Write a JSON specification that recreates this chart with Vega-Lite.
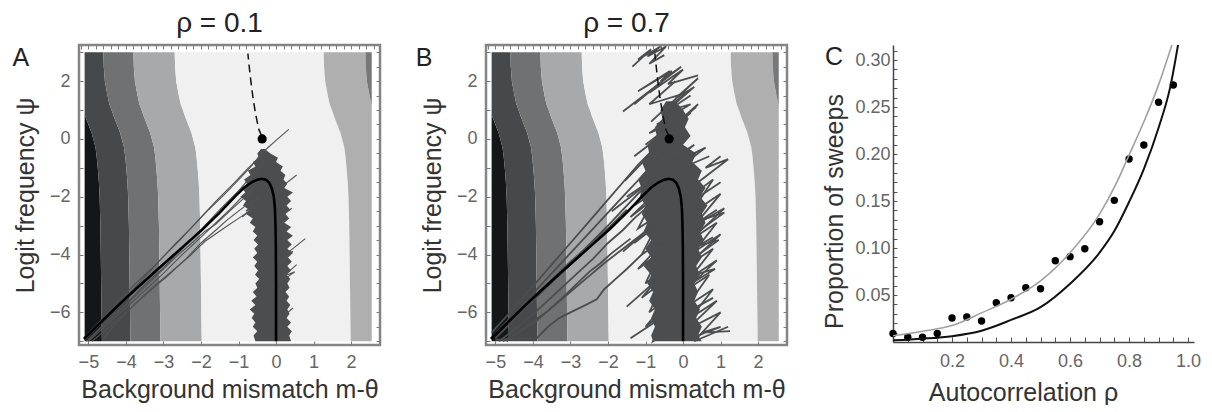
{
  "$schema": "https://vega.github.io/schema/vega-lite/v6.json",
  "background": "white",
  "padding": {"left": 11, "top": 8, "right": 0, "bottom": 0},
  "spacing": 106,
  "bounds": "flush",
  "config": {
    "font": "Liberation Sans",
    "view": {"stroke": "#858585", "strokeWidth": 2.5},
    "axis": {"labelFont": "Liberation Sans", "titleFont": "Liberation Sans", "titleFontWeight": "normal", "grid": false},
    "title": {"font": "Liberation Sans", "fontWeight": "normal"}
  },
  "datasets": {
    "bands": [
      {"y": 3, "L": -5.1, "b0": -5.1, "b1": -4.6, "b2": -3.8, "b3": -2.7, "b4": 1.27, "b5": 2.38, "R": 2.55},
      {"y": 2.5, "L": -5.1, "b0": -5.1, "b1": -4.59, "b2": -3.79, "b3": -2.69, "b4": 1.28, "b5": 2.39, "R": 2.55},
      {"y": 2, "L": -5.1, "b0": -5.1, "b1": -4.56, "b2": -3.76, "b3": -2.66, "b4": 1.31, "b5": 2.42, "R": 2.55},
      {"y": 1.5, "L": -5.1, "b0": -5.1, "b1": -4.49, "b2": -3.69, "b3": -2.59, "b4": 1.38, "b5": 2.49, "R": 2.55},
      {"y": 1.2, "L": -5.1, "b0": -5.1, "b1": -4.44, "b2": -3.64, "b3": -2.54, "b4": 1.43, "b5": 2.54, "R": 2.55},
      {"y": 1, "L": -5.1, "b0": -5.1, "b1": -4.38, "b2": -3.58, "b3": -2.48, "b4": 1.49, "b5": 2.55, "R": 2.55},
      {"y": 0.8, "L": -5.1, "b0": -5.09, "b1": -4.33, "b2": -3.53, "b3": -2.43, "b4": 1.54, "b5": 2.55, "R": 2.55},
      {"y": 0.5, "L": -5.1, "b0": -5.0, "b1": -4.24, "b2": -3.44, "b3": -2.34, "b4": 1.63, "b5": 2.55, "R": 2.55},
      {"y": 0.2, "L": -5.1, "b0": -4.91, "b1": -4.15, "b2": -3.35, "b3": -2.25, "b4": 1.72, "b5": 2.55, "R": 2.55},
      {"y": 0, "L": -5.1, "b0": -4.87, "b1": -4.11, "b2": -3.31, "b3": -2.21, "b4": 1.76, "b5": 2.55, "R": 2.55},
      {"y": -0.3, "L": -5.1, "b0": -4.81, "b1": -4.05, "b2": -3.25, "b3": -2.15, "b4": 1.82, "b5": 2.55, "R": 2.55},
      {"y": -0.6, "L": -5.1, "b0": -4.78, "b1": -4.02, "b2": -3.22, "b3": -2.12, "b4": 1.85, "b5": 2.55, "R": 2.55},
      {"y": -1, "L": -5.1, "b0": -4.75, "b1": -3.99, "b2": -3.19, "b3": -2.09, "b4": 1.88, "b5": 2.55, "R": 2.55},
      {"y": -1.5, "L": -5.1, "b0": -4.72, "b1": -3.96, "b2": -3.16, "b3": -2.06, "b4": 1.91, "b5": 2.55, "R": 2.55},
      {"y": -2, "L": -5.1, "b0": -4.7, "b1": -3.94, "b2": -3.14, "b3": -2.04, "b4": 1.93, "b5": 2.55, "R": 2.55},
      {"y": -3, "L": -5.1, "b0": -4.68, "b1": -3.92, "b2": -3.12, "b3": -2.02, "b4": 1.95, "b5": 2.55, "R": 2.55},
      {"y": -4, "L": -5.1, "b0": -4.67, "b1": -3.91, "b2": -3.11, "b3": -2.01, "b4": 1.96, "b5": 2.55, "R": 2.55},
      {"y": -5, "L": -5.1, "b0": -4.66, "b1": -3.9, "b2": -3.1, "b3": -2.0, "b4": 1.97, "b5": 2.55, "R": 2.55},
      {"y": -6, "L": -5.1, "b0": -4.65, "b1": -3.89, "b2": -3.09, "b3": -1.99, "b4": 1.98, "b5": 2.55, "R": 2.55},
      {"y": -7, "L": -5.1, "b0": -4.64, "b1": -3.88, "b2": -3.08, "b3": -1.98, "b4": 1.99, "b5": 2.55, "R": 2.55}
    ],
    "curve": [
      {"x": -5.12, "y": -6.92}, {"x": -4.64, "y": -6.31}, {"x": -4.2, "y": -5.75}, {"x": -3.75, "y": -5.21},
      {"x": -3.3, "y": -4.68}, {"x": -2.86, "y": -4.17}, {"x": -2.4, "y": -3.64}, {"x": -1.97, "y": -3.14},
      {"x": -1.5, "y": -2.55}, {"x": -1.09, "y": -1.99}, {"x": -0.85, "y": -1.68}, {"x": -0.65, "y": -1.5},
      {"x": -0.5, "y": -1.41}, {"x": -0.38, "y": -1.38}, {"x": -0.27, "y": -1.41}, {"x": -0.18, "y": -1.52},
      {"x": -0.11, "y": -1.72}, {"x": -0.06, "y": -2.0}, {"x": -0.03, "y": -2.4}, {"x": -0.015, "y": -3.0},
      {"x": -0.005, "y": -3.8}, {"x": 0, "y": -5.0}, {"x": 0, "y": -7.0}
    ],
    "dash": [
      {"x": -0.38, "y": 0.1}, {"x": -0.46, "y": 0.33}, {"x": -0.55, "y": 0.9}, {"x": -0.62, "y": 1.48},
      {"x": -0.69, "y": 2.2}, {"x": -0.75, "y": 2.95}
    ],
    "dot": [{"x": -0.37, "y": 0}],
    "letters": [{"t": "A", "x": -6.8, "y": 2.8}, {"t": "B", "x": -6.9, "y": 2.8}, {"t": "C", "x": -0.2, "y": 0.303}],
    "trajA": [
      {"id": 1, "x": -5.05, "y": -7.0}, {"id": 1, "x": -4.5, "y": -6.3}, {"id": 1, "x": -4.0, "y": -5.72}, {"id": 1, "x": -3.5, "y": -5.05}, {"id": 1, "x": -3.0, "y": -4.45}, {"id": 1, "x": -2.5, "y": -3.8}, {"id": 1, "x": -2.0, "y": -3.15}, {"id": 1, "x": -1.5, "y": -2.45}, {"id": 1, "x": -1.0, "y": -1.8}, {"id": 1, "x": -0.7, "y": -1.35}, {"id": 1, "x": -0.5, "y": -1.1}, {"id": 1, "x": -0.3, "y": -0.75},
      {"id": 2, "x": -5.1, "y": -6.95}, {"id": 2, "x": -4.6, "y": -6.3}, {"id": 2, "x": -4.1, "y": -5.6}, {"id": 2, "x": -3.6, "y": -4.92}, {"id": 2, "x": -3.1, "y": -4.2}, {"id": 2, "x": -2.6, "y": -3.55}, {"id": 2, "x": -2.1, "y": -2.85}, {"id": 2, "x": -1.6, "y": -2.15}, {"id": 2, "x": -1.1, "y": -1.5}, {"id": 2, "x": -0.75, "y": -1.02}, {"id": 2, "x": -0.55, "y": -0.78}, {"id": 2, "x": -0.4, "y": -0.5},
      {"id": 3, "x": -5.0, "y": -7.0}, {"id": 3, "x": -4.5, "y": -6.42}, {"id": 3, "x": -4.0, "y": -5.85}, {"id": 3, "x": -3.5, "y": -5.25}, {"id": 3, "x": -3.0, "y": -4.65}, {"id": 3, "x": -2.5, "y": -4.0}, {"id": 3, "x": -2.0, "y": -3.4}, {"id": 3, "x": -1.6, "y": -2.9}, {"id": 3, "x": -1.2, "y": -2.4}, {"id": 3, "x": -0.9, "y": -2.0}, {"id": 3, "x": -0.7, "y": -1.8}, {"id": 3, "x": -0.5, "y": -1.6},
      {"id": 4, "x": -4.9, "y": -7.0}, {"id": 4, "x": -4.4, "y": -6.45}, {"id": 4, "x": -3.9, "y": -5.9}, {"id": 4, "x": -3.4, "y": -5.3}, {"id": 4, "x": -2.9, "y": -4.75}, {"id": 4, "x": -2.4, "y": -4.15}, {"id": 4, "x": -2.0, "y": -3.6}, {"id": 4, "x": -1.6, "y": -3.15}, {"id": 4, "x": -1.3, "y": -2.8}, {"id": 4, "x": -1.0, "y": -2.5}, {"id": 4, "x": -0.8, "y": -2.3}, {"id": 4, "x": -0.6, "y": -2.1},
      {"id": 5, "x": -5.1, "y": -6.85}, {"id": 5, "x": -4.6, "y": -6.18}, {"id": 5, "x": -4.2, "y": -5.6}, {"id": 5, "x": -3.7, "y": -4.95}, {"id": 5, "x": -3.2, "y": -4.35}, {"id": 5, "x": -2.7, "y": -3.65}, {"id": 5, "x": -2.2, "y": -3.0}, {"id": 5, "x": -1.8, "y": -2.45}, {"id": 5, "x": -1.4, "y": -1.95}, {"id": 5, "x": -1.0, "y": -1.42}, {"id": 5, "x": -0.7, "y": -1.0}, {"id": 5, "x": -0.45, "y": -0.62}, {"id": 5, "x": -0.3, "y": -0.4}, {"id": 5, "x": 0.0, "y": -0.05}, {"id": 5, "x": 0.34, "y": 0.33},
      {"id": 6, "x": -5.0, "y": -6.95}, {"id": 6, "x": -4.5, "y": -6.35}, {"id": 6, "x": -4.0, "y": -5.75}, {"id": 6, "x": -3.5, "y": -5.12}, {"id": 6, "x": -3.0, "y": -4.5}, {"id": 6, "x": -2.6, "y": -4.0}, {"id": 6, "x": -2.2, "y": -3.55}, {"id": 6, "x": -1.9, "y": -3.2}, {"id": 6, "x": -1.6, "y": -2.95}, {"id": 6, "x": -1.2, "y": -2.45}, {"id": 6, "x": -0.9, "y": -2.1}, {"id": 6, "x": -0.6, "y": -1.75},
      {"id": 7, "x": -4.6, "y": -6.9}, {"id": 7, "x": -4.2, "y": -6.3}, {"id": 7, "x": -3.75, "y": -5.7}, {"id": 7, "x": -3.3, "y": -5.15}, {"id": 7, "x": -2.8, "y": -4.6}, {"id": 7, "x": -2.3, "y": -4.05}, {"id": 7, "x": -1.9, "y": -3.55}, {"id": 7, "x": -1.4, "y": -3.1}, {"id": 7, "x": -1.0, "y": -2.75}, {"id": 7, "x": -0.6, "y": -2.4},
      {"id": 9, "x": 0.1, "y": -4.3}, {"id": 9, "x": 0.45, "y": -3.9}, {"id": 9, "x": 0.3, "y": -3.95}, {"id": 9, "x": 0.78, "y": -3.45},
      {"id": 10, "x": 0.1, "y": -1.7}, {"id": 10, "x": 0.55, "y": -1.25},
      {"id": 11, "x": 0.05, "y": -6.3}, {"id": 11, "x": 0.45, "y": -5.85},
      {"id": 12, "x": 0.0, "y": -2.8}, {"id": 12, "x": 0.42, "y": -2.4},
      {"id": 13, "x": -0.9, "y": -2.7}, {"id": 13, "x": -0.55, "y": -2.3}, {"id": 13, "x": -0.8, "y": -2.5}, {"id": 13, "x": -0.45, "y": -2.0},
      {"id": 14, "x": 0.05, "y": -5.0}, {"id": 14, "x": 0.5, "y": -4.6}, {"id": 14, "x": 0.2, "y": -4.75}, {"id": 14, "x": 0.55, "y": -4.35}
    ],
    "cloudA": [
      {"y": -0.35, "x1": -0.4, "x2": -0.3}, {"y": -0.5, "x1": -0.5, "x2": -0.15}, {"y": -0.65, "x1": -0.45, "x2": 0.05},
      {"y": -0.8, "x1": -0.62, "x2": 0.0}, {"y": -0.95, "x1": -0.55, "x2": 0.18}, {"y": -1.1, "x1": -0.75, "x2": 0.12},
      {"y": -1.25, "x1": -0.68, "x2": 0.25}, {"y": -1.4, "x1": -0.85, "x2": 0.2}, {"y": -1.55, "x1": -0.78, "x2": 0.3},
      {"y": -1.7, "x1": -0.9, "x2": 0.22}, {"y": -1.85, "x1": -0.82, "x2": 0.45}, {"y": -2.0, "x1": -0.95, "x2": 0.3},
      {"y": -2.15, "x1": -0.8, "x2": 0.4}, {"y": -2.3, "x1": -0.88, "x2": 0.28}, {"y": -2.45, "x1": -0.72, "x2": 0.38},
      {"y": -2.6, "x1": -0.8, "x2": 0.25}, {"y": -2.75, "x1": -0.62, "x2": 0.35}, {"y": -2.9, "x1": -0.7, "x2": 0.22},
      {"y": -3.05, "x1": -0.55, "x2": 0.4}, {"y": -3.2, "x1": -0.62, "x2": 0.28}, {"y": -3.35, "x1": -0.5, "x2": 0.45},
      {"y": -3.5, "x1": -0.6, "x2": 0.3}, {"y": -3.65, "x1": -0.48, "x2": 0.42}, {"y": -3.8, "x1": -0.58, "x2": 0.3},
      {"y": -3.95, "x1": -0.5, "x2": 0.45}, {"y": -4.1, "x1": -0.62, "x2": 0.32}, {"y": -4.25, "x1": -0.5, "x2": 0.42},
      {"y": -4.4, "x1": -0.58, "x2": 0.3}, {"y": -4.55, "x1": -0.48, "x2": 0.4}, {"y": -4.7, "x1": -0.56, "x2": 0.28},
      {"y": -4.85, "x1": -0.45, "x2": 0.38}, {"y": -5.0, "x1": -0.55, "x2": 0.3}, {"y": -5.15, "x1": -0.5, "x2": 0.36},
      {"y": -5.3, "x1": -0.62, "x2": 0.25}, {"y": -5.45, "x1": -0.52, "x2": 0.35}, {"y": -5.6, "x1": -0.66, "x2": 0.28},
      {"y": -5.75, "x1": -0.55, "x2": 0.38}, {"y": -5.9, "x1": -0.7, "x2": 0.3}, {"y": -6.05, "x1": -0.58, "x2": 0.36},
      {"y": -6.2, "x1": -0.65, "x2": 0.28}, {"y": -6.35, "x1": -0.55, "x2": 0.4}, {"y": -6.5, "x1": -0.62, "x2": 0.3},
      {"y": -6.65, "x1": -0.5, "x2": 0.42}, {"y": -6.8, "x1": -0.6, "x2": 0.35}, {"y": -7.0, "x1": -0.55, "x2": 0.4}
    ],
    "trajB": [
      {"id": 1, "x": -5.1, "y": -6.7}, {"id": 1, "x": -4.5, "y": -5.85}, {"id": 1, "x": -4.0, "y": -5.1}, {"id": 1, "x": -3.5, "y": -4.35}, {"id": 1, "x": -3.0, "y": -3.6}, {"id": 1, "x": -2.5, "y": -2.85}, {"id": 1, "x": -2.0, "y": -2.1}, {"id": 1, "x": -1.6, "y": -1.5}, {"id": 1, "x": -1.2, "y": -0.9}, {"id": 1, "x": -0.9, "y": -0.5}, {"id": 1, "x": -0.6, "y": -0.1},
      {"id": 2, "x": -5.05, "y": -6.8}, {"id": 2, "x": -4.5, "y": -6.05}, {"id": 2, "x": -4.0, "y": -5.35}, {"id": 2, "x": -3.5, "y": -4.65}, {"id": 2, "x": -3.0, "y": -3.95}, {"id": 2, "x": -2.5, "y": -3.25}, {"id": 2, "x": -2.0, "y": -2.55}, {"id": 2, "x": -1.5, "y": -1.85}, {"id": 2, "x": -1.1, "y": -1.3}, {"id": 2, "x": -0.8, "y": -0.9}, {"id": 2, "x": -0.5, "y": -0.5},
      {"id": 3, "x": -5.0, "y": -6.9}, {"id": 3, "x": -4.5, "y": -6.25}, {"id": 3, "x": -4.0, "y": -5.6}, {"id": 3, "x": -3.5, "y": -4.95}, {"id": 3, "x": -3.0, "y": -4.3}, {"id": 3, "x": -2.5, "y": -3.65}, {"id": 3, "x": -2.0, "y": -3.0}, {"id": 3, "x": -1.6, "y": -2.45}, {"id": 3, "x": -1.2, "y": -1.9}, {"id": 3, "x": -0.8, "y": -1.4},
      {"id": 4, "x": -4.9, "y": -7.0}, {"id": 4, "x": -4.4, "y": -6.5}, {"id": 4, "x": -3.9, "y": -5.95}, {"id": 4, "x": -3.4, "y": -5.35}, {"id": 4, "x": -2.9, "y": -4.75}, {"id": 4, "x": -2.4, "y": -4.15}, {"id": 4, "x": -2.0, "y": -3.6}, {"id": 4, "x": -1.6, "y": -3.15}, {"id": 4, "x": -1.3, "y": -2.75}, {"id": 4, "x": -0.9, "y": -2.3},
      {"id": 5, "x": -4.7, "y": -7.0}, {"id": 5, "x": -4.2, "y": -6.5}, {"id": 5, "x": -3.6, "y": -5.95}, {"id": 5, "x": -3.1, "y": -5.4}, {"id": 5, "x": -2.6, "y": -4.85}, {"id": 5, "x": -2.1, "y": -4.3}, {"id": 5, "x": -1.6, "y": -3.8}, {"id": 5, "x": -1.0, "y": -3.2},
      {"id": 6, "x": -5.0, "y": -6.95}, {"id": 6, "x": -4.4, "y": -6.92}, {"id": 6, "x": -3.9, "y": -6.9}, {"id": 6, "x": -3.6, "y": -6.5}, {"id": 6, "x": -3.3, "y": -6.2}, {"id": 6, "x": -3.0, "y": -6.0}, {"id": 6, "x": -2.6, "y": -5.75}, {"id": 6, "x": -2.3, "y": -5.55}, {"id": 6, "x": -2.1, "y": -5.2}, {"id": 6, "x": -1.8, "y": -4.85}, {"id": 6, "x": -1.5, "y": -4.5}, {"id": 6, "x": -1.1, "y": -4.0},
      {"id": 7, "x": -5.1, "y": -6.9}, {"id": 7, "x": -4.6, "y": -6.25}, {"id": 7, "x": -4.2, "y": -5.8}, {"id": 7, "x": -3.8, "y": -5.25}, {"id": 7, "x": -3.4, "y": -4.75}, {"id": 7, "x": -3.0, "y": -4.25}, {"id": 7, "x": -2.6, "y": -3.8}, {"id": 7, "x": -2.3, "y": -3.45}, {"id": 7, "x": -2.0, "y": -3.1}, {"id": 7, "x": -1.5, "y": -2.45},
      {"id": 8, "x": -4.8, "y": -7.0}, {"id": 8, "x": -4.4, "y": -6.7}, {"id": 8, "x": -4.0, "y": -6.4}, {"id": 8, "x": -3.6, "y": -5.95}, {"id": 8, "x": -3.3, "y": -5.6}, {"id": 8, "x": -2.9, "y": -5.1}, {"id": 8, "x": -2.5, "y": -4.6}, {"id": 8, "x": -2.2, "y": -4.3}, {"id": 8, "x": -1.9, "y": -3.95}, {"id": 8, "x": -1.4, "y": -3.45},
      {"id": 11, "x": -1.35, "y": 2.5}, {"id": 11, "x": -0.85, "y": 3.1}, {"id": 11, "x": -1.2, "y": 2.75}, {"id": 11, "x": -0.6, "y": 3.2}, {"id": 11, "x": -0.95, "y": 2.85}, {"id": 11, "x": -0.45, "y": 3.2}, {"id": 11, "x": -0.9, "y": 2.6}, {"id": 11, "x": -0.5, "y": 2.9},
      {"id": 12, "x": -1.6, "y": 0.95}, {"id": 12, "x": -0.05, "y": 2.5}, {"id": 12, "x": -0.6, "y": 2.0}, {"id": 12, "x": -0.3, "y": 2.35}, {"id": 12, "x": -1.2, "y": 1.65}, {"id": 12, "x": -0.35, "y": 2.35},
      {"id": 13, "x": -1.3, "y": 1.2}, {"id": 13, "x": -0.55, "y": 2.0}, {"id": 13, "x": -0.9, "y": 1.6}, {"id": 13, "x": 0.0, "y": 2.4}, {"id": 13, "x": -0.4, "y": 1.9}, {"id": 13, "x": 0.4, "y": 2.2},
      {"id": 14, "x": -0.85, "y": 0.6}, {"id": 14, "x": 0.4, "y": 2.1}, {"id": 14, "x": -0.2, "y": 1.4}, {"id": 14, "x": 0.3, "y": 1.8}, {"id": 14, "x": -0.5, "y": 0.9}, {"id": 14, "x": 0.2, "y": 1.5},
      {"id": 15, "x": -1.55, "y": -1.45}, {"id": 15, "x": 0.4, "y": 1.2}, {"id": 15, "x": -0.3, "y": 0.4}, {"id": 15, "x": 0.35, "y": 1.1},
      {"id": 16, "x": -1.3, "y": -0.6}, {"id": 16, "x": 0.2, "y": 0.9}, {"id": 16, "x": -0.6, "y": 0.2}, {"id": 16, "x": 0.0, "y": 0.7},
      {"id": 17, "x": -1.0, "y": -0.2}, {"id": 17, "x": -0.2, "y": 0.6}, {"id": 17, "x": -0.9, "y": 0.2}, {"id": 17, "x": 0.0, "y": 1.0}, {"id": 17, "x": -0.7, "y": 0.5}, {"id": 17, "x": 0.2, "y": 1.2}, {"id": 17, "x": -0.6, "y": 0.9}, {"id": 17, "x": 0.1, "y": 1.6}, {"id": 17, "x": -0.9, "y": 1.2}, {"id": 17, "x": -0.2, "y": 2.0},
      {"id": 18, "x": -1.5, "y": -2.0}, {"id": 18, "x": -0.7, "y": -1.3}, {"id": 18, "x": -1.3, "y": -2.3}, {"id": 18, "x": -0.6, "y": -1.7}, {"id": 18, "x": -1.4, "y": -2.7}, {"id": 18, "x": -0.8, "y": -2.1}, {"id": 18, "x": -1.2, "y": -3.1}, {"id": 18, "x": -0.5, "y": -2.5}, {"id": 18, "x": -1.3, "y": -3.6}, {"id": 18, "x": -0.7, "y": -3.0}, {"id": 18, "x": -1.1, "y": -4.0}, {"id": 18, "x": -0.4, "y": -3.4}, {"id": 18, "x": -1.2, "y": -4.5}, {"id": 18, "x": -0.6, "y": -3.9}, {"id": 18, "x": -1.0, "y": -5.0}, {"id": 18, "x": -0.4, "y": -4.4}, {"id": 18, "x": -1.1, "y": -5.5}, {"id": 18, "x": -0.5, "y": -4.9}, {"id": 18, "x": -0.9, "y": -6.0}, {"id": 18, "x": -0.3, "y": -5.4}, {"id": 18, "x": -1.0, "y": -6.5}, {"id": 18, "x": -0.4, "y": -5.9}, {"id": 18, "x": -0.8, "y": -7.0}, {"id": 18, "x": -0.2, "y": -6.5},
      {"id": 19, "x": 0.0, "y": -2.2}, {"id": 19, "x": 0.8, "y": -1.4}, {"id": 19, "x": 0.2, "y": -2.6}, {"id": 19, "x": 1.0, "y": -1.9}, {"id": 19, "x": 0.3, "y": -3.0}, {"id": 19, "x": 1.1, "y": -2.4}, {"id": 19, "x": 0.2, "y": -3.5}, {"id": 19, "x": 0.9, "y": -2.9}, {"id": 19, "x": 0.3, "y": -3.9}, {"id": 19, "x": 1.0, "y": -3.3}, {"id": 19, "x": 0.1, "y": -4.4}, {"id": 19, "x": 0.8, "y": -3.8}, {"id": 19, "x": 0.2, "y": -4.8}, {"id": 19, "x": 0.9, "y": -4.2}, {"id": 19, "x": 0.0, "y": -5.3}, {"id": 19, "x": 0.7, "y": -4.7}, {"id": 19, "x": 0.1, "y": -5.8}, {"id": 19, "x": 0.8, "y": -5.2}, {"id": 19, "x": 0.2, "y": -6.2}, {"id": 19, "x": 0.9, "y": -5.6}, {"id": 19, "x": 0.1, "y": -6.6}, {"id": 19, "x": 1.0, "y": -6.0}, {"id": 19, "x": 0.3, "y": -7.0}, {"id": 19, "x": 1.2, "y": -6.5},
      {"id": 20, "x": -0.9, "y": -1.2}, {"id": 20, "x": 0.3, "y": -0.2}, {"id": 20, "x": -0.5, "y": -1.0}, {"id": 20, "x": 0.6, "y": -0.3}, {"id": 20, "x": -0.2, "y": -1.1}, {"id": 20, "x": 0.7, "y": -0.6},
      {"id": 21, "x": 0.3, "y": -3.3}, {"id": 21, "x": 1.1, "y": -2.55}, {"id": 21, "x": 0.5, "y": -2.8}, {"id": 21, "x": 0.9, "y": -2.45},
      {"id": 22, "x": 0.2, "y": -4.2}, {"id": 22, "x": 0.95, "y": -3.5}, {"id": 22, "x": 0.4, "y": -3.7}, {"id": 22, "x": 0.8, "y": -3.4},
      {"id": 23, "x": 0.1, "y": -5.1}, {"id": 23, "x": 0.85, "y": -4.5}, {"id": 23, "x": 0.3, "y": -4.7},
      {"id": 24, "x": 0.2, "y": -6.9}, {"id": 24, "x": 1.0, "y": -6.5}, {"id": 24, "x": 0.5, "y": -6.7}, {"id": 24, "x": 1.25, "y": -6.65},
      {"id": 25, "x": 0.1, "y": -6.0}, {"id": 25, "x": 0.8, "y": -5.5},
      {"id": 26, "x": 0.3, "y": -1.6}, {"id": 26, "x": 1.2, "y": -0.7}, {"id": 26, "x": 0.6, "y": -1.0}, {"id": 26, "x": 1.0, "y": -0.6},
      {"id": 27, "x": 0.2, "y": -2.2}, {"id": 27, "x": 1.0, "y": -1.5},
      {"id": 31, "x": -1.6, "y": -3.9}, {"id": 31, "x": -0.9, "y": -3.1},
      {"id": 32, "x": -1.5, "y": -5.8}, {"id": 32, "x": -0.8, "y": -5.0},
      {"id": 33, "x": -1.9, "y": -2.5}, {"id": 33, "x": -1.0, "y": -1.6},
      {"id": 34, "x": -1.4, "y": -6.9}, {"id": 34, "x": -0.7, "y": -6.3}
    ],
    "cloudB": [
      {"y": 1.3, "x1": -0.45, "x2": -0.2}, {"y": 1.0, "x1": -0.6, "x2": 0.0},
      {"y": 0.7, "x1": -0.55, "x2": 0.15}, {"y": 0.4, "x1": -0.75, "x2": 0.05}, {"y": 0.1, "x1": -0.7, "x2": 0.2},
      {"y": -0.2, "x1": -0.95, "x2": 0.0}, {"y": -0.5, "x1": -0.9, "x2": 0.35}, {"y": -0.8, "x1": -1.1, "x2": 0.25},
      {"y": -1.1, "x1": -1.0, "x2": 0.5}, {"y": -1.4, "x1": -1.2, "x2": 0.4}, {"y": -1.7, "x1": -1.1, "x2": 0.6},
      {"y": -2.0, "x1": -1.15, "x2": 0.45}, {"y": -2.3, "x1": -1.0, "x2": 0.65}, {"y": -2.6, "x1": -1.1, "x2": 0.5},
      {"y": -2.9, "x1": -0.95, "x2": 0.6}, {"y": -3.2, "x1": -1.05, "x2": 0.45}, {"y": -3.5, "x1": -0.85, "x2": 0.55},
      {"y": -3.8, "x1": -1.0, "x2": 0.4}, {"y": -4.1, "x1": -0.85, "x2": 0.5}, {"y": -4.4, "x1": -1.05, "x2": 0.35},
      {"y": -4.7, "x1": -0.85, "x2": 0.45}, {"y": -5.0, "x1": -0.95, "x2": 0.3}, {"y": -5.3, "x1": -0.8, "x2": 0.4},
      {"y": -5.6, "x1": -0.9, "x2": 0.3}, {"y": -5.9, "x1": -0.75, "x2": 0.45}, {"y": -6.2, "x1": -0.85, "x2": 0.35},
      {"y": -6.5, "x1": -0.75, "x2": 0.5}, {"y": -6.8, "x1": -0.85, "x2": 0.4}, {"y": -7.0, "x1": -0.8, "x2": 0.5}
    ],
    "fitGray": [
      {"x": 0, "y": 0.0067}, {"x": 0.1, "y": 0.0115}, {"x": 0.2, "y": 0.0175}, {"x": 0.3, "y": 0.031},
      {"x": 0.4, "y": 0.0455}, {"x": 0.5, "y": 0.065}, {"x": 0.6, "y": 0.095}, {"x": 0.7, "y": 0.136},
      {"x": 0.757, "y": 0.169}, {"x": 0.8, "y": 0.199}, {"x": 0.853, "y": 0.2365}, {"x": 0.898, "y": 0.272},
      {"x": 0.949, "y": 0.32}
    ],
    "fitBlack": [
      {"x": 0, "y": 0.0018}, {"x": 0.1, "y": 0.0035}, {"x": 0.2, "y": 0.0062}, {"x": 0.3, "y": 0.012},
      {"x": 0.4, "y": 0.0235}, {"x": 0.5, "y": 0.037}, {"x": 0.6, "y": 0.062}, {"x": 0.7, "y": 0.095},
      {"x": 0.75, "y": 0.118}, {"x": 0.8, "y": 0.149}, {"x": 0.85, "y": 0.184}, {"x": 0.9, "y": 0.228},
      {"x": 0.94, "y": 0.272}, {"x": 0.968, "y": 0.32}
    ],
    "pts": [
      {"x": 0, "y": 0.009}, {"x": 0.05, "y": 0.005}, {"x": 0.1, "y": 0.005}, {"x": 0.15, "y": 0.009},
      {"x": 0.2, "y": 0.0255}, {"x": 0.25, "y": 0.0266}, {"x": 0.3, "y": 0.0223}, {"x": 0.35, "y": 0.0418},
      {"x": 0.4, "y": 0.047}, {"x": 0.45, "y": 0.0578}, {"x": 0.5, "y": 0.0567}, {"x": 0.55, "y": 0.0865},
      {"x": 0.6, "y": 0.0908}, {"x": 0.65, "y": 0.0993}, {"x": 0.7, "y": 0.128}, {"x": 0.75, "y": 0.1507},
      {"x": 0.8, "y": 0.1947}, {"x": 0.85, "y": 0.2096}, {"x": 0.9, "y": 0.255}, {"x": 0.95, "y": 0.2734}
    ]
  },
  "hconcat": [
    {
      "width": 301, "height": 300,
      "title": {"text": "ρ = 0.1", "fontSize": 28, "color": "#222", "anchor": "middle", "dx": -10, "offset": 5},
      "layer": [
        {"data": {"name": "bands"}, "mark": {"type": "area", "orient": "horizontal", "color": "#141719"},
         "encoding": {"y": {"field": "y", "type": "quantitative", "scale": {"domain": [-7.13, 3.25], "nice": false, "zero": false}, "axis": null},
           "x": {"field": "L", "type": "quantitative", "scale": {"domain": [-5.25, 2.77], "nice": false, "zero": false}, "axis": null}, "x2": {"field": "b0"}}},
        {"data": {"name": "bands"}, "mark": {"type": "area", "orient": "horizontal", "color": "#46494b"},
         "encoding": {"y": {"field": "y", "type": "quantitative", "scale": {"domain": [-7.13, 3.25], "nice": false, "zero": false}, "axis": null},
           "x": {"field": "b0", "type": "quantitative", "scale": {"domain": [-5.25, 2.77], "nice": false, "zero": false}, "axis": null}, "x2": {"field": "b1"}}},
        {"data": {"name": "bands"}, "mark": {"type": "area", "orient": "horizontal", "color": "#6f7173"},
         "encoding": {"y": {"field": "y", "type": "quantitative", "scale": {"domain": [-7.13, 3.25], "nice": false, "zero": false}, "axis": null},
           "x": {"field": "b1", "type": "quantitative", "scale": {"domain": [-5.25, 2.77], "nice": false, "zero": false}, "axis": null}, "x2": {"field": "b2"}}},
        {"data": {"name": "bands"}, "mark": {"type": "area", "orient": "horizontal", "color": "#a8a9aa"},
         "encoding": {"y": {"field": "y", "type": "quantitative", "scale": {"domain": [-7.13, 3.25], "nice": false, "zero": false}, "axis": null},
           "x": {"field": "b2", "type": "quantitative", "scale": {"domain": [-5.25, 2.77], "nice": false, "zero": false}, "axis": null}, "x2": {"field": "b3"}}},
        {"data": {"name": "bands"}, "mark": {"type": "area", "orient": "horizontal", "color": "#f0f0f0"},
         "encoding": {"y": {"field": "y", "type": "quantitative", "scale": {"domain": [-7.13, 3.25], "nice": false, "zero": false}, "axis": null},
           "x": {"field": "b3", "type": "quantitative", "scale": {"domain": [-5.25, 2.77], "nice": false, "zero": false}, "axis": null}, "x2": {"field": "b4"}}},
        {"data": {"name": "bands"}, "mark": {"type": "area", "orient": "horizontal", "color": "#afafaf"},
         "encoding": {"y": {"field": "y", "type": "quantitative", "scale": {"domain": [-7.13, 3.25], "nice": false, "zero": false}, "axis": null},
           "x": {"field": "b4", "type": "quantitative", "scale": {"domain": [-5.25, 2.77], "nice": false, "zero": false}, "axis": null}, "x2": {"field": "b5"}}},
        {"data": {"name": "bands"}, "mark": {"type": "area", "orient": "horizontal", "color": "#777879"},
         "encoding": {"y": {"field": "y", "type": "quantitative", "scale": {"domain": [-7.13, 3.25], "nice": false, "zero": false}, "axis": null},
           "x": {"field": "b5", "type": "quantitative", "scale": {"domain": [-5.25, 2.77], "nice": false, "zero": false}, "axis": null}, "x2": {"field": "R"}}},
        {"data": {"name": "cloudA"}, "mark": {"type": "area", "orient": "horizontal", "color": "#4b4d4f"},
         "encoding": {"y": {"field": "y", "type": "quantitative", "scale": {"domain": [-7.13, 3.25], "nice": false, "zero": false}, "axis": null},
           "x": {"field": "x1", "type": "quantitative", "scale": {"domain": [-5.25, 2.77], "nice": false, "zero": false}, "axis": null}, "x2": {"field": "x2"}}},
        {"data": {"name": "trajA"}, "transform": [{"window": [{"op": "row_number", "as": "i"}]}],
         "mark": {"type": "line", "color": "#505254", "strokeWidth": 1.1, "clip": true},
         "encoding": {
           "y": {"field": "y", "type": "quantitative", "scale": {"domain": [-7.13, 3.25], "nice": false, "zero": false},
                 "axis": {"orient": "left", "title": "Logit frequency ψ", "tickCount": 20, "format": "d", "labelExpr": "datum.value % 2 === 0 ? datum.label : ''", "labelOverlap": false, "labelFlush": false, "tickSize": -4, "tickColor": "#7a7a7a", "labelPadding": 13, "domain": false, "labelFontSize": 18, "labelColor": "#666", "titleFontSize": 25, "titleColor": "#333", "titlePadding": 11}},
           "x": {"field": "x", "type": "quantitative", "scale": {"domain": [-5.25, 2.77], "nice": false, "zero": false},
                 "axis": {"orient": "bottom", "title": "Background mismatch m-θ", "tickCount": 40, "format": "d", "labelExpr": "datum.value % 1 === 0 ? datum.label : ''", "labelOverlap": false, "labelFlush": false, "tickSize": -4, "tickColor": "#7a7a7a", "labelPadding": 12, "domain": false, "labelFontSize": 18, "labelColor": "#666", "titleFontSize": 25, "titleColor": "#333", "titlePadding": 6}},
           "detail": {"field": "id", "type": "nominal"}, "order": {"field": "i", "type": "quantitative"}}},
        {"data": {"name": "curve"}, "transform": [{"window": [{"op": "row_number", "as": "i"}]}],
         "mark": {"type": "line", "color": "#000", "strokeWidth": 2.6},
         "encoding": {"y": {"field": "y", "type": "quantitative", "scale": {"domain": [-7.13, 3.25], "nice": false, "zero": false},
                 "axis": {"orient": "right", "labels": false, "title": null, "tickCount": 20, "tickSize": -4, "tickColor": "#7a7a7a", "domain": false}},
           "x": {"field": "x", "type": "quantitative", "scale": {"domain": [-5.25, 2.77], "nice": false, "zero": false},
                 "axis": {"orient": "top", "labels": false, "title": null, "tickCount": 40, "tickSize": -4, "tickColor": "#7a7a7a", "domain": false}},
           "order": {"field": "i", "type": "quantitative"}}},
        {"data": {"name": "dash"}, "transform": [{"window": [{"op": "row_number", "as": "i"}]}],
         "mark": {"type": "line", "color": "#111", "strokeWidth": 1.5, "strokeDash": [8, 5]},
         "encoding": {"y": {"field": "y", "type": "quantitative", "scale": {"domain": [-7.13, 3.25], "nice": false, "zero": false}, "axis": null},
           "x": {"field": "x", "type": "quantitative", "scale": {"domain": [-5.25, 2.77], "nice": false, "zero": false}, "axis": null}, "order": {"field": "i", "type": "quantitative"}}},
        {"data": {"name": "dot"}, "mark": {"type": "circle", "color": "#000", "size": 85, "opacity": 1},
         "encoding": {"y": {"field": "y", "type": "quantitative", "scale": {"domain": [-7.13, 3.25], "nice": false, "zero": false}, "axis": null},
           "x": {"field": "x", "type": "quantitative", "scale": {"domain": [-5.25, 2.77], "nice": false, "zero": false}, "axis": null}}},
        {"data": {"name": "letters"}, "transform": [{"filter": "datum.t === 'A'"}],
         "mark": {"type": "text", "fontSize": 25, "color": "#222", "align": "center", "baseline": "middle"},
         "encoding": {"text": {"field": "t", "type": "nominal"}, "y": {"field": "y", "type": "quantitative", "scale": {"domain": [-7.13, 3.25], "nice": false, "zero": false}, "axis": null},
           "x": {"field": "x", "type": "quantitative", "scale": {"domain": [-5.25, 2.77], "nice": false, "zero": false}, "axis": null}}}
      ]
    },
    {
      "width": 301, "height": 300,
      "title": {"text": "ρ = 0.7", "fontSize": 28, "color": "#222", "anchor": "middle", "dx": -10, "offset": 5},
      "layer": [
        {"data": {"name": "bands"}, "mark": {"type": "area", "orient": "horizontal", "color": "#141719"},
         "encoding": {"y": {"field": "y", "type": "quantitative", "scale": {"domain": [-7.13, 3.25], "nice": false, "zero": false}, "axis": null},
           "x": {"field": "L", "type": "quantitative", "scale": {"domain": [-5.25, 2.77], "nice": false, "zero": false}, "axis": null}, "x2": {"field": "b0"}}},
        {"data": {"name": "bands"}, "mark": {"type": "area", "orient": "horizontal", "color": "#46494b"},
         "encoding": {"y": {"field": "y", "type": "quantitative", "scale": {"domain": [-7.13, 3.25], "nice": false, "zero": false}, "axis": null},
           "x": {"field": "b0", "type": "quantitative", "scale": {"domain": [-5.25, 2.77], "nice": false, "zero": false}, "axis": null}, "x2": {"field": "b1"}}},
        {"data": {"name": "bands"}, "mark": {"type": "area", "orient": "horizontal", "color": "#6f7173"},
         "encoding": {"y": {"field": "y", "type": "quantitative", "scale": {"domain": [-7.13, 3.25], "nice": false, "zero": false}, "axis": null},
           "x": {"field": "b1", "type": "quantitative", "scale": {"domain": [-5.25, 2.77], "nice": false, "zero": false}, "axis": null}, "x2": {"field": "b2"}}},
        {"data": {"name": "bands"}, "mark": {"type": "area", "orient": "horizontal", "color": "#a8a9aa"},
         "encoding": {"y": {"field": "y", "type": "quantitative", "scale": {"domain": [-7.13, 3.25], "nice": false, "zero": false}, "axis": null},
           "x": {"field": "b2", "type": "quantitative", "scale": {"domain": [-5.25, 2.77], "nice": false, "zero": false}, "axis": null}, "x2": {"field": "b3"}}},
        {"data": {"name": "bands"}, "mark": {"type": "area", "orient": "horizontal", "color": "#f0f0f0"},
         "encoding": {"y": {"field": "y", "type": "quantitative", "scale": {"domain": [-7.13, 3.25], "nice": false, "zero": false}, "axis": null},
           "x": {"field": "b3", "type": "quantitative", "scale": {"domain": [-5.25, 2.77], "nice": false, "zero": false}, "axis": null}, "x2": {"field": "b4"}}},
        {"data": {"name": "bands"}, "mark": {"type": "area", "orient": "horizontal", "color": "#afafaf"},
         "encoding": {"y": {"field": "y", "type": "quantitative", "scale": {"domain": [-7.13, 3.25], "nice": false, "zero": false}, "axis": null},
           "x": {"field": "b4", "type": "quantitative", "scale": {"domain": [-5.25, 2.77], "nice": false, "zero": false}, "axis": null}, "x2": {"field": "b5"}}},
        {"data": {"name": "bands"}, "mark": {"type": "area", "orient": "horizontal", "color": "#777879"},
         "encoding": {"y": {"field": "y", "type": "quantitative", "scale": {"domain": [-7.13, 3.25], "nice": false, "zero": false}, "axis": null},
           "x": {"field": "b5", "type": "quantitative", "scale": {"domain": [-5.25, 2.77], "nice": false, "zero": false}, "axis": null}, "x2": {"field": "R"}}},
        {"data": {"name": "cloudB"}, "mark": {"type": "area", "orient": "horizontal", "color": "#4b4d4f"},
         "encoding": {"y": {"field": "y", "type": "quantitative", "scale": {"domain": [-7.13, 3.25], "nice": false, "zero": false}, "axis": null},
           "x": {"field": "x1", "type": "quantitative", "scale": {"domain": [-5.25, 2.77], "nice": false, "zero": false}, "axis": null}, "x2": {"field": "x2"}}},
        {"data": {"name": "trajB"}, "transform": [{"window": [{"op": "row_number", "as": "i"}]}],
         "mark": {"type": "line", "color": "#4b4d4f", "strokeWidth": 1.8, "clip": true},
         "encoding": {
           "y": {"field": "y", "type": "quantitative", "scale": {"domain": [-7.13, 3.25], "nice": false, "zero": false},
                 "axis": {"orient": "left", "title": "Logit frequency ψ", "tickCount": 20, "format": "d", "labelExpr": "datum.value % 2 === 0 ? datum.label : ''", "labelOverlap": false, "labelFlush": false, "tickSize": -4, "tickColor": "#7a7a7a", "labelPadding": 13, "domain": false, "labelFontSize": 18, "labelColor": "#666", "titleFontSize": 25, "titleColor": "#333", "titlePadding": 11}},
           "x": {"field": "x", "type": "quantitative", "scale": {"domain": [-5.25, 2.77], "nice": false, "zero": false},
                 "axis": {"orient": "bottom", "title": "Background mismatch m-θ", "tickCount": 40, "format": "d", "labelExpr": "datum.value % 1 === 0 ? datum.label : ''", "labelOverlap": false, "labelFlush": false, "tickSize": -4, "tickColor": "#7a7a7a", "labelPadding": 12, "domain": false, "labelFontSize": 18, "labelColor": "#666", "titleFontSize": 25, "titleColor": "#333", "titlePadding": 6}},
           "detail": {"field": "id", "type": "nominal"}, "order": {"field": "i", "type": "quantitative"}}},
        {"data": {"name": "curve"}, "transform": [{"window": [{"op": "row_number", "as": "i"}]}],
         "mark": {"type": "line", "color": "#000", "strokeWidth": 2.6},
         "encoding": {"y": {"field": "y", "type": "quantitative", "scale": {"domain": [-7.13, 3.25], "nice": false, "zero": false},
                 "axis": {"orient": "right", "labels": false, "title": null, "tickCount": 20, "tickSize": -4, "tickColor": "#7a7a7a", "domain": false}},
           "x": {"field": "x", "type": "quantitative", "scale": {"domain": [-5.25, 2.77], "nice": false, "zero": false},
                 "axis": {"orient": "top", "labels": false, "title": null, "tickCount": 40, "tickSize": -4, "tickColor": "#7a7a7a", "domain": false}},
           "order": {"field": "i", "type": "quantitative"}}},
        {"data": {"name": "dash"}, "transform": [{"window": [{"op": "row_number", "as": "i"}]}],
         "mark": {"type": "line", "color": "#111", "strokeWidth": 1.5, "strokeDash": [8, 5]},
         "encoding": {"y": {"field": "y", "type": "quantitative", "scale": {"domain": [-7.13, 3.25], "nice": false, "zero": false}, "axis": null},
           "x": {"field": "x", "type": "quantitative", "scale": {"domain": [-5.25, 2.77], "nice": false, "zero": false}, "axis": null}, "order": {"field": "i", "type": "quantitative"}}},
        {"data": {"name": "dot"}, "mark": {"type": "circle", "color": "#000", "size": 85, "opacity": 1},
         "encoding": {"y": {"field": "y", "type": "quantitative", "scale": {"domain": [-7.13, 3.25], "nice": false, "zero": false}, "axis": null},
           "x": {"field": "x", "type": "quantitative", "scale": {"domain": [-5.25, 2.77], "nice": false, "zero": false}, "axis": null}}},
        {"data": {"name": "letters"}, "transform": [{"filter": "datum.t === 'B'"}],
         "mark": {"type": "text", "fontSize": 25, "color": "#222", "align": "center", "baseline": "middle"},
         "encoding": {"text": {"field": "t", "type": "nominal"}, "y": {"field": "y", "type": "quantitative", "scale": {"domain": [-7.13, 3.25], "nice": false, "zero": false}, "axis": null},
           "x": {"field": "x", "type": "quantitative", "scale": {"domain": [-5.25, 2.77], "nice": false, "zero": false}, "axis": null}}}
      ]
    },
    {
      "width": 301, "height": 297,
      "view": {"stroke": null},
      "resolve": {"axis": {"x": "independent", "y": "independent"}},
      "layer": [
        {"data": {"name": "pts"}, "mark": {"type": "circle", "color": "#000", "size": 55, "opacity": 1},
         "encoding": {
           "x": {"field": "x", "type": "quantitative", "scale": {"domain": [0, 1.02], "nice": false, "zero": false},
                 "axis": {"orient": "bottom", "title": "Autocorrelation ρ", "values": [0.05, 0.1, 0.15, 0.2, 0.25, 0.3, 0.35, 0.4, 0.45, 0.5, 0.55, 0.6, 0.65, 0.7, 0.75, 0.8, 0.85, 0.9, 0.95, 1.0], "format": ".2f", "labelExpr": "indexof(['0.20', '0.40', '0.60', '0.80', '1.00'], datum.label) >= 0 ? substring(datum.label, 0, 3) : ''", "labelOverlap": false, "labelFlush": false, "tickSize": -5, "tickColor": "#555", "domainColor": "#444", "domainWidth": 1.5, "labelPadding": 15, "labelFontSize": 18, "labelColor": "#666", "titleFontSize": 25, "titleColor": "#333", "titlePadding": 10, "titleX": 130}},
           "y": {"field": "y", "type": "quantitative", "scale": {"domain": [0, 0.316], "nice": false, "zero": false},
                 "axis": {"orient": "left", "title": "Proportion of sweeps", "values": [0.01, 0.02, 0.03, 0.04, 0.05, 0.06, 0.07, 0.08, 0.09, 0.1, 0.11, 0.12, 0.13, 0.14, 0.15, 0.16, 0.17, 0.18, 0.19, 0.2, 0.21, 0.22, 0.23, 0.24, 0.25, 0.26, 0.27, 0.28, 0.29, 0.3, 0.31], "format": ".2f", "labelExpr": "indexof(['0.05', '0.10', '0.15', '0.20', '0.25', '0.30'], datum.label) >= 0 ? datum.label : ''", "labelOverlap": false, "labelFlush": false, "tickSize": -4, "tickColor": "#555", "domainColor": "#444", "domainWidth": 1.5, "labelPadding": 7, "labelFontSize": 18, "labelColor": "#666", "titleFontSize": 25, "titleColor": "#333", "titlePadding": 7, "titleY": 166}}}},
        {"data": {"name": "fitGray"}, "mark": {"type": "line", "color": "#a0a0a0", "strokeWidth": 1.6, "interpolate": "monotone", "clip": true},
         "encoding": {"x": {"field": "x", "type": "quantitative", "scale": {"domain": [0, 1.02], "nice": false, "zero": false}, "axis": null},
           "y": {"field": "y", "type": "quantitative", "scale": {"domain": [0, 0.316], "nice": false, "zero": false}, "axis": null}}},
        {"data": {"name": "fitBlack"}, "mark": {"type": "line", "color": "#111", "strokeWidth": 2, "interpolate": "monotone", "clip": true},
         "encoding": {"x": {"field": "x", "type": "quantitative", "scale": {"domain": [0, 1.02], "nice": false, "zero": false}, "axis": null},
           "y": {"field": "y", "type": "quantitative", "scale": {"domain": [0, 0.316], "nice": false, "zero": false}, "axis": null}}},
        {"data": {"name": "letters"}, "transform": [{"filter": "datum.t === 'C'"}],
         "mark": {"type": "text", "fontSize": 25, "color": "#222", "align": "center", "baseline": "middle"},
         "encoding": {"text": {"field": "t", "type": "nominal"}, "x": {"field": "x", "type": "quantitative", "scale": {"domain": [0, 1.02], "nice": false, "zero": false}, "axis": null},
           "y": {"field": "y", "type": "quantitative", "scale": {"domain": [0, 0.316], "nice": false, "zero": false}, "axis": null}}}
      ]
    }
  ]
}
